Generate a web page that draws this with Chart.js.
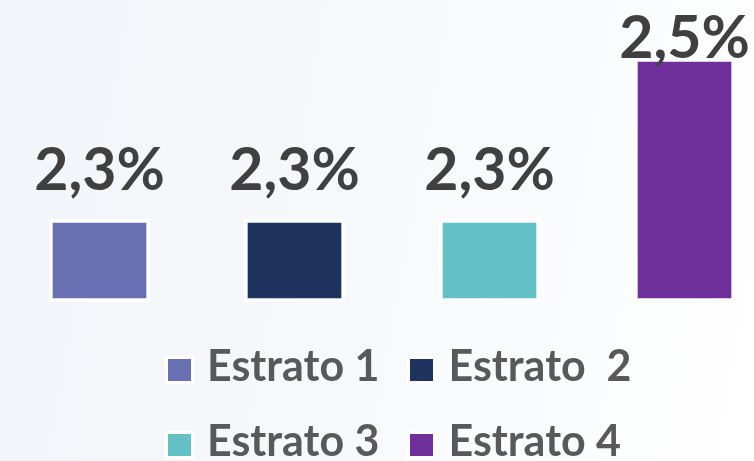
<!DOCTYPE html>
<html lang="pt-BR">
<head>
<meta charset="utf-8">
<title>Estratos</title>
<script src="https://cdn.jsdelivr.net/npm/chart.js@4.4.1/dist/chart.umd.min.js"></script>
<style>
  html, body {
    margin: 0;
    padding: 0;
    overflow: hidden;
  }
  #wrap {
    position: relative;
    width: 754px;
    height: 461px;
    background: linear-gradient(100deg, #f2f5f9 0%, #f6f8fb 45%, #fbfcfd 75%, #ffffff 100%);
    font-family: Lato, "Open Sans", sans-serif;
  }
  #grafico {
    position: absolute;
    left: 0;
    top: 0;
  }
  #legenda {
    position: absolute;
    left: 168px;
    top: 343px;
    display: grid;
    grid-template-columns: auto auto;
    column-gap: 30px;
    row-gap: 32px;
  }
  .item {
    display: flex;
    align-items: baseline;
    font-weight: 700;
    font-size: 43px;
    line-height: 43px;
    color: #595959;
    white-space: pre;
  }
  .item .cor {
    display: inline-block;
    width: 23px;
    height: 22px;
    margin-right: 16px;
    box-shadow: 0 0 0 3px #ffffff;
  }
</style>
</head>
<body>
<div id="wrap">
  <canvas id="grafico" width="754" height="461"></canvas>
  <div id="legenda"></div>
</div>
<script>
// Dados do gráfico
const categorias = ['Estrato 1', 'Estrato  2', 'Estrato 3', 'Estrato 4'];
const valores = [2.3, 2.3, 2.3, 2.5];
const cores = ['#6870b2', '#1f335f', '#63c0c4', '#70309c'];
const eixoMin = 2.197;
const eixoMax = 2.5;

// Formata número com vírgula decimal
function formatarPercentual(valor) {
  return valor.toLocaleString('pt-BR', {
    minimumFractionDigits: 1,
    maximumFractionDigits: 1
  }) + '%';
}

// Rótulos de valor acima das barras
const rotulosPlugin = {
  id: 'rotulos',
  afterDatasetsDraw(chart) {
    const ctx = chart.ctx;
    const meta = chart.getDatasetMeta(0);
    ctx.save();
    ctx.font = '700 59px Lato, "Open Sans", sans-serif';
    ctx.fillStyle = '#404040';
    ctx.textAlign = 'center';
    ctx.textBaseline = 'alphabetic';
    meta.data.forEach((barra, i) => {
      // mantém o texto dentro da área visível
      const y = Math.max(barra.y - 29, 58);
      ctx.fillText(formatarPercentual(valores[i]), barra.x, y);
    });
    ctx.restore();
  }
};

// Legenda em duas colunas
function montarLegenda() {
  const legenda = document.getElementById('legenda');
  categorias.forEach((nome, i) => {
    const item = document.createElement('div');
    item.className = 'item';
    const cor = document.createElement('span');
    cor.className = 'cor';
    cor.style.background = cores[i];
    item.appendChild(cor);
    item.appendChild(document.createTextNode(nome));
    legenda.appendChild(item);
  });
}

const ctx = document.getElementById('grafico').getContext('2d');
new Chart(ctx, {
  type: 'bar',
  data: {
    labels: categorias,
    datasets: [{
      data: valores,
      base: eixoMin,
      backgroundColor: cores,
      borderColor: 'rgba(255, 255, 255, 0.95)',
      borderWidth: 4,
      borderSkipped: false,
      barThickness: 101,
      clip: false
    }]
  },
  options: {
    responsive: false,
    animation: false,
    devicePixelRatio: 1,
    layout: {
      padding: { left: 99.5, right: 69.5, top: 58, bottom: 159 }
    },
    plugins: {
      legend: { display: false },
      tooltip: { enabled: false }
    },
    scales: {
      x: {
        display: false,
        offset: false
      },
      y: {
        display: false,
        min: eixoMin,
        max: eixoMax
      }
    }
  },
  plugins: [rotulosPlugin]
});

montarLegenda();
</script>
</body>
</html>
